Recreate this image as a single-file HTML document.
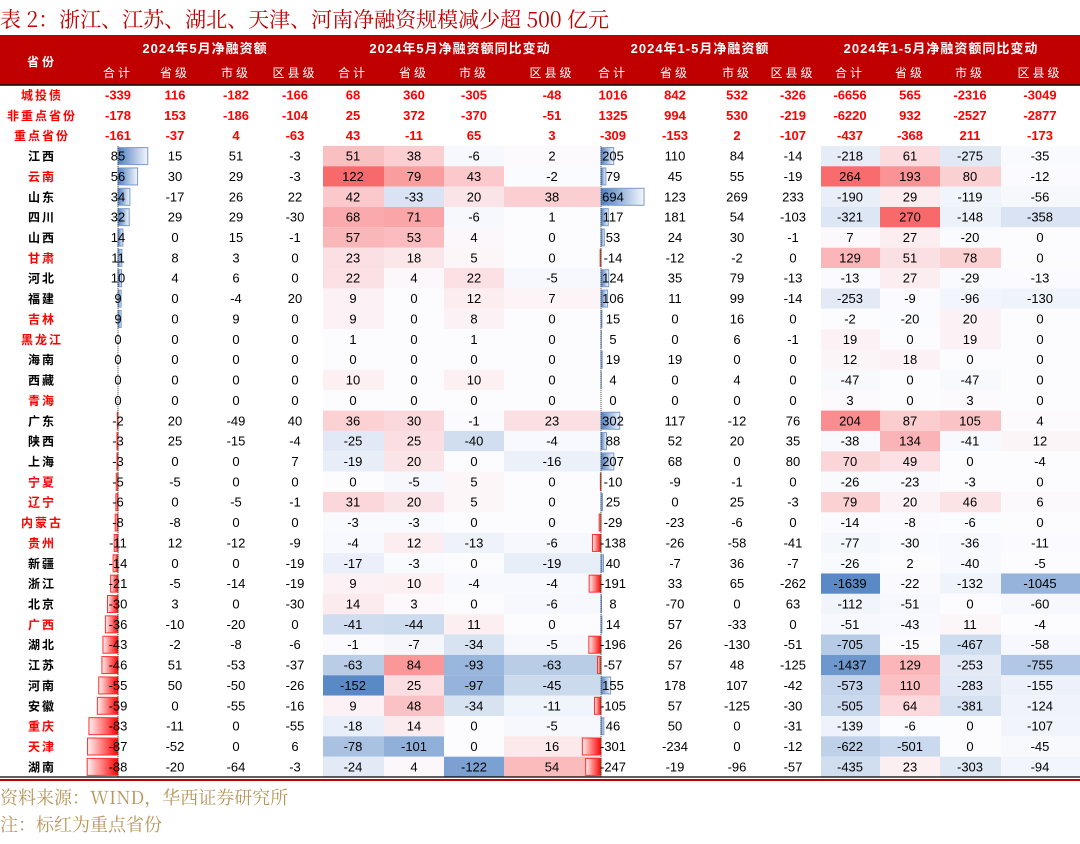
<!DOCTYPE html>
<html><head><meta charset="utf-8">
<style>
html,body{margin:0;padding:0;background:#fff;}
svg{display:block;}
text{font-family:"Liberation Sans","Noto Sans CJK SC",sans-serif;}
.cn{font-family:"Noto Serif CJK SC","Noto Sans CJK SC",serif;}
</style></head>
<body>
<svg id="chart" width="1080" height="844" viewBox="0 0 1080 844" xmlns="http://www.w3.org/2000/svg">
<defs>
<linearGradient id="gpos" x1="0" x2="1" y1="0" y2="0"><stop offset="0" stop-color="#4f7fc0"/><stop offset="1" stop-color="#f4f7fc"/></linearGradient>
<linearGradient id="gneg" x1="1" x2="0" y1="0" y2="0"><stop offset="0" stop-color="#ff0000"/><stop offset="1" stop-color="#fff2f2"/></linearGradient>
</defs>
<text class="cn" x="0" y="27" font-size="21" fill="#c00000">表 2：浙江、江苏、湖北、天津、河南净融资规模减少超 500 亿元</text>
<rect x="0" y="35" width="1080" height="50" fill="#c00000"/>
<line x1="0" y1="85" x2="1080" y2="85" stroke="#000" stroke-width="1.5"/>
<g id="body"></g>
<line x1="0" y1="777" x2="1080" y2="777" stroke="#000" stroke-width="1.2"/>
<line x1="0" y1="780" x2="1080" y2="780" stroke="#c00000" stroke-width="2"/>
<text class="cn" x="0" y="804" font-size="18" fill="#b8955a">资料来源：WIND，华西证券研究所</text>
<text class="cn" x="0" y="831" font-size="18" fill="#b8955a">注：标红为重点省份</text>
</svg>
<script>
const provinces=["城投债","非重点省份","重点省份","江西","云南","山东","四川","山西","甘肃","河北","福建","吉林","黑龙江","海南","西藏","青海","广东","陕西","上海","宁夏","辽宁","内蒙古","贵州","新疆","浙江","北京","广西","湖北","江苏","河南","安徽","重庆","天津","湖南"];
const keyProvinces=["云南","甘肃","吉林","黑龙江","青海","宁夏","辽宁","内蒙古","贵州","广西","重庆","天津"];
const groupTitles=["2024年5月净融资额","2024年5月净融资额同比变动","2024年1-5月净融资额","2024年1-5月净融资额同比变动"];
const subTitles=["合计","省级","市级","区县级"];
const may=[[-339,116,-182,-166],[-178,153,-186,-104],[-161,-37,4,-63],[85,15,51,-3],[56,30,29,-3],[34,-17,26,22],[32,29,29,-30],[14,0,15,-1],[11,8,3,0],[10,4,6,0],[9,0,-4,20],[9,0,9,0],[0,0,0,0],[0,0,0,0],[0,0,0,0],[0,0,0,0],[-2,20,-49,40],[-3,25,-15,-4],[-3,0,0,7],[-5,-5,0,0],[-6,0,-5,-1],[-8,-8,0,0],[-11,12,-12,-9],[-14,0,0,-19],[-21,-5,-14,-19],[-30,3,0,-30],[-36,-10,-20,0],[-43,-2,-8,-6],[-46,51,-53,-37],[-55,50,-50,-26],[-59,0,-55,-16],[-83,-11,0,-55],[-87,-52,0,6],[-88,-20,-64,-3]];
const mayYoY=[[68,360,-305,-48],[25,372,-370,-51],[43,-11,65,3],[51,38,-6,2],[122,79,43,-2],[42,-33,20,38],[68,71,-6,1],[57,53,4,0],[23,18,5,0],[22,4,22,-5],[9,0,12,7],[9,0,8,0],[1,0,1,0],[0,0,0,0],[10,0,10,0],[0,0,0,0],[36,30,-1,23],[-25,25,-40,-4],[-19,20,0,-16],[0,-5,5,0],[31,20,5,0],[-3,-3,0,0],[-4,12,-13,-6],[-17,-3,0,-19],[9,10,-4,-4],[14,3,0,-6],[-41,-44,11,0],[-1,-7,-34,-5],[-63,84,-93,-63],[-152,25,-97,-45],[9,48,-34,-11],[-18,14,0,-5],[-78,-101,0,16],[-24,4,-122,54]];
const ytd=[[1016,842,532,-326],[1325,994,530,-219],[-309,-153,2,-107],[205,110,84,-14],[79,45,55,-19],[694,123,269,233],[117,181,54,-103],[53,24,30,-1],[-14,-12,-2,0],[124,35,79,-13],[106,11,99,-14],[15,0,16,0],[5,0,6,-1],[19,19,0,0],[4,0,4,0],[0,0,0,0],[302,117,-12,76],[88,52,20,35],[207,68,0,80],[-10,-9,-1,0],[25,0,25,-3],[-29,-23,-6,0],[-138,-26,-58,-41],[40,-7,36,-7],[-191,33,65,-262],[8,-70,0,63],[14,57,-33,0],[-196,26,-130,-51],[-57,57,48,-125],[155,178,107,-42],[-105,57,-125,-30],[46,50,0,-31],[-301,-234,0,-12],[-247,-19,-96,-57]];
const ytdYoY=[[-6656,565,-2316,-3049],[-6220,932,-2527,-2877],[-437,-368,211,-173],[-218,61,-275,-35],[264,193,80,-12],[-190,29,-119,-56],[-321,270,-148,-358],[7,27,-20,0],[129,51,78,0],[-13,27,-29,-13],[-253,-9,-96,-130],[-2,-20,20,0],[19,0,19,0],[12,18,0,0],[-47,0,-47,0],[3,0,3,0],[204,87,105,4],[-38,134,-41,12],[70,49,0,-4],[-26,-23,-3,0],[79,20,46,6],[-14,-8,-6,0],[-77,-30,-36,-11],[-26,2,-40,-5],[-1639,-22,-132,-1045],[-112,-51,0,-60],[-51,-43,11,-4],[-705,-15,-467,-58],[-1437,129,-253,-755],[-573,110,-283,-155],[-505,64,-381,-124],[-139,-6,0,-107],[-622,-501,0,-45],[-435,23,-303,-94]];

const NS="http://www.w3.org/2000/svg";
const body=document.getElementById('body');
function mk(tag,attrs,parent){const e=document.createElementNS(NS,tag);for(const k in attrs)e.setAttribute(k,attrs[k]);(parent||body).appendChild(e);return e;}
const colCenters=[[118,175,236,295],[353,414,474,552],[613,675,737,793],[850,910,970,1040]];
const colEdges=[[85,145,205,267,323],[323,384,444,504,600],[583,645,705,768,821],[821,880,940,1001,1080]];
const groupCenters=[205,460,700,941];
const rowY=i=>95+i*20.36;
const rowH=20.36;
groupCenters.forEach((c,g)=>{const t=mk('text',{x:c,y:53,'text-anchor':'middle','font-size':13,'font-weight':'bold',fill:'#fff','letter-spacing':'1'});t.textContent=groupTitles[g];


subTitles.forEach((s,j)=>{const u=mk('text',{x:colCenters[g][j],y:77,'text-anchor':'middle','font-size':12,fill:'#fff','letter-spacing':'3'});u.textContent=s;

});});
const ph=mk('text',{x:42,y:66,'text-anchor':'middle','font-size':12,'font-weight':'bold',fill:'#fff','letter-spacing':'3'});ph.textContent='省份';


function lerp(a,b,t){return Math.round(a+(b-a)*t);}
function heat(v,mn,mx){let c1=[252,252,255],c2;let t;if(v>=0){c2=[248,105,107];t=mx?v/mx:0;}else{c2=[90,138,198];t=mn?v/mn:0;}
return 'rgb('+lerp(c1[0],c2[0],t)+','+lerp(c1[1],c2[1],t)+','+lerp(c1[2],c2[2],t)+')';}
const groups=[may,mayYoY,ytd,ytdYoY];
[1,3].forEach(g=>{let vals=[];groups[g].slice(3).forEach(r=>vals.push(...r));const mn=Math.min(...vals),mx=Math.max(...vals);
groups[g].forEach((r,i)=>{if(i<3)return;r.forEach((v,j)=>{const x0=colEdges[g][j],x1=colEdges[g][j+1];
const c=mk('rect',{x:x0,y:rowY(i)-rowH/2,width:x1-x0,height:rowH,fill:heat(v,mn,mx)});

});});});
const barAxes=[{g:0,ax:118,sc:0.35},{g:2,ax:601,sc:0.062}];
barAxes.forEach(b=>{groups[b.g].forEach((r,i)=>{if(i<3)return;const v=r[0];if(v===0)return;const w=Math.abs(v)*b.sc;
const x=v>0?b.ax:b.ax-w;const rc=mk('rect',{x:x,y:rowY(i)-8.5,width:w,height:17,fill:v>0?'url(#gpos)':'url(#gneg)',stroke:v>0?'#7a9bd0':'#ff3030','stroke-width':1});

});
const l=mk('line',{x1:b.ax,y1:rowY(3)-10,x2:b.ax,y2:777,stroke:'#333','stroke-width':1,'stroke-dasharray':'1,1'});

});
provinces.forEach((p,i)=>{const y=rowY(i)+4.5;const summary=i<3;const red=summary||keyProvinces.includes(p);
const t=mk('text',{x:42,y:y,'text-anchor':'middle','font-size':12,'font-weight':'bold',fill:red?'#ff0000':'#000','letter-spacing':'2'});t.textContent=p;


groups.forEach((gr,g)=>{gr[i].forEach((v,j)=>{const n=mk('text',{x:colCenters[g][j],y:y,'text-anchor':'middle','font-size':13,'font-weight':summary?'bold':'normal',fill:summary?'#ff0000':'#000'});n.textContent=v;

});});});
</script>
</body></html>
